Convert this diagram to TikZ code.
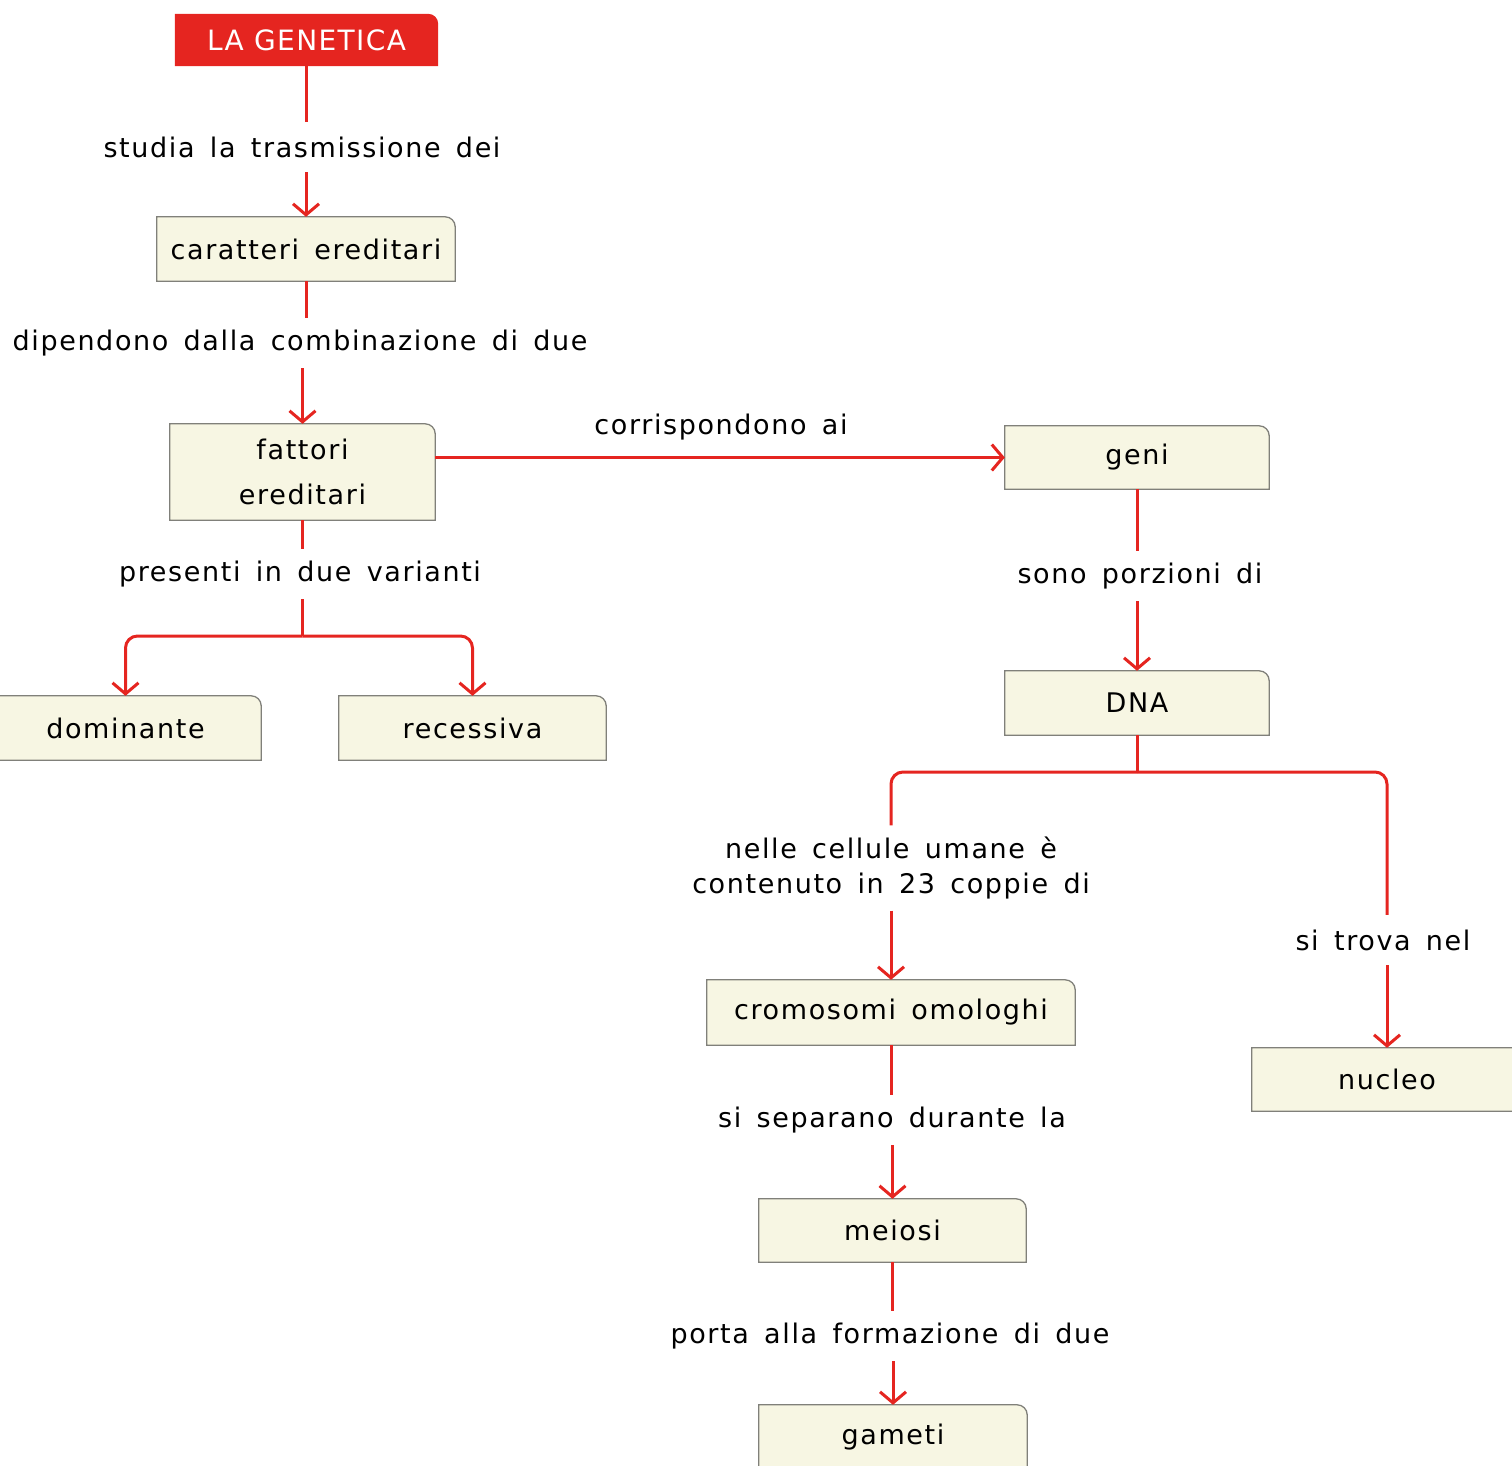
\documentclass[tikz,border=0pt]{standalone}
\usepackage{fontspec}
\setmainfont[WordSpace=1.5, LetterSpace=6]{DejaVu Sans}
\newfontfamily\titlefont[LetterSpace=5]{DejaVu Sans}
\usetikzlibrary{arrows.meta}
\pgfdeclarelayer{bg}
\pgfsetlayers{bg,main}
\definecolor{cred}{HTML}{E52520}
\definecolor{cfill}{HTML}{F7F6E3}
\definecolor{cline}{HTML}{80807A}
\begin{document}
\begin{tikzpicture}[x=1pt,y=1pt,
  cbox/.style 2 args={minimum width=#1, minimum height=#2, inner sep=0pt,
     font=\fontsize{27}{45}\selectfont, align=center},
  lab/.style={font=\fontsize{27}{35}\selectfont, inner sep=0pt, minimum height=50pt, align=center},
  titlebox/.style={minimum width=263pt, minimum height=52pt, inner sep=0pt,
     text=white, font=\titlefont\fontsize{28}{30}\selectfont},
  conn/.style={draw=cred, line width=3pt},
  arr/.style={conn, -{Straight Barb[length=11pt,width=26pt]}},
  boxpath/.style={fill=cfill, draw=cline, line width=1.3pt}]
\useasboundingbox (0,-1465) rectangle (1512,0);

% boxes
\node[titlebox] (tit) at (306.5,-40) {LA GENETICA};
\node[cbox={298pt}{64pt}] (car) at (306,-249) {caratteri ereditari};
\node[cbox={265pt}{96pt}] (fat) at (302.5,-472) {fattori\\ereditari};
\node[cbox={264pt}{63pt}] (geni) at (1137,-457.5) {geni};
\node[cbox={271pt}{64pt}] (dom) at (125.5,-728) {dominante};
\node[cbox={267pt}{64pt}] (rec) at (472.5,-728) {recessiva};
\node[cbox={264pt}{64pt}] (dna) at (1137,-703) {DNA};
\node[cbox={368pt}{65pt}] (crom) at (891,-1012.5) {cromosomi omologhi};
\node[cbox={270pt}{63pt}] (nuc) at (1387,-1079.5) {nucleo};
\node[cbox={267pt}{63pt}] (mei) at (892.5,-1230.5) {meiosi};
\node[cbox={268pt}{65pt}] (gam) at (893,-1437.5) {gameti};

% labels
\node[lab] (l1) at (302,-147) {studia la trasmissione dei};
\node[lab] (l2) at (300,-343) {dipendono dalla combinazione di due};
\node[lab] (l3) at (721,-427) {corrispondono ai};
\node[lab] (l4) at (300,-574) {presenti in due varianti};
\node[lab] (l5) at (1140,-576) {sono porzioni di};
\node[lab, minimum height=85pt] (l6) at (891,-868) {nelle cellule umane è\\contenuto in 23 coppie di};
\node[lab] (l7) at (1383,-940) {si trova nel};
\node[lab] (l8) at (892,-1120) {si separano durante la};
\node[lab] (l9) at (890,-1336) {porta alla formazione di due};

\begin{pgfonlayer}{bg}
\foreach \n in {car,fat,geni,dom,rec,dna,crom,nuc,mei,gam}
  \draw[boxpath] (\n.south west) -- (\n.north west) -- ([xshift=-10pt]\n.north east)
     arc[start angle=90,end angle=0,radius=10pt] -- (\n.south east) -- cycle;
\fill[cred] (tit.south west) -- (tit.north west) -- ([xshift=-10pt]tit.north east)
     arc[start angle=90,end angle=0,radius=10pt] -- (tit.south east) -- cycle;
\end{pgfonlayer}

% connectors
\draw[conn] (tit.south) -- (tit.south |- l1.north);
\draw[arr] (car.north |- l1.south) -- (car.north);
\draw[conn] (car.south) -- (car.south |- l2.north);
\draw[arr] (fat.north |- l2.south) -- (fat.north);
\draw[arr] (fat.east |- geni.west) -- (geni.west);
\draw[conn] (fat.south) -- (fat.south |- l4.north);
\coordinate (f1) at (302.5,-636);
\draw[conn] (fat.south |- l4.south) -- (f1);
\draw[arr, rounded corners=12pt] (f1) -| (dom.north);
\draw[arr, rounded corners=12pt] (f1) -| (rec.north);
\draw[conn] (geni.south) -- (geni.south |- l5.north);
\draw[arr] (dna.north |- l5.south) -- (dna.north);
\coordinate (f2) at (1137,-772);
\draw[conn] (dna.south) -- (f2);
\draw[conn, rounded corners=12pt] (f2) -| (l6.north -| crom.north);
\draw[arr] (crom.north |- l6.south) -- (crom.north);
\draw[conn, rounded corners=12pt] (f2) -| (l7.north -| nuc.north);
\draw[arr] (nuc.north |- l7.south) -- (nuc.north);
\draw[conn] (crom.south) -- (crom.south |- l8.north);
\draw[arr] (mei.north |- l8.south) -- (mei.north);
\draw[conn] (mei.south) -- (mei.south |- l9.north);
\draw[arr] (gam.north |- l9.south) -- (gam.north);
\end{tikzpicture}
\end{document}
